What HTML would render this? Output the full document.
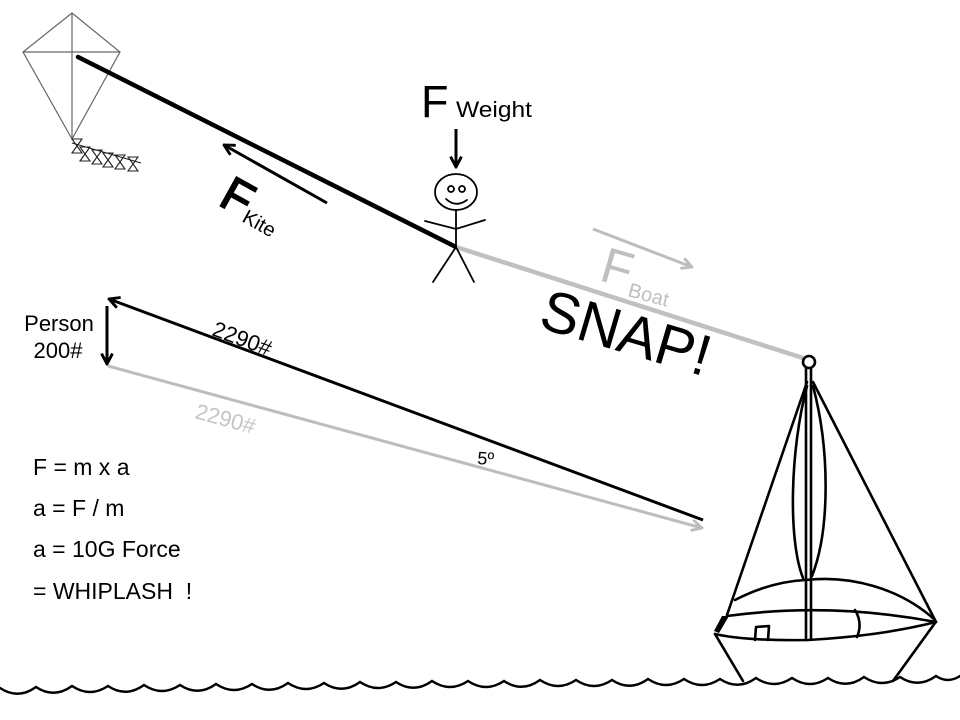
<!DOCTYPE html>
<html><head><meta charset="utf-8"><style>
html,body{margin:0;padding:0;background:#fff;}
svg{display:block;}
text{font-family:"Liberation Sans",Arial,sans-serif;}
</style></head><body>
<svg width="960" height="720" viewBox="0 0 960 720" xmlns="http://www.w3.org/2000/svg">
<defs>
<marker id="ab" viewBox="0 0 10 10" refX="9" refY="5" markerWidth="13" markerHeight="13" markerUnits="userSpaceOnUse" orient="auto">
<path d="M1,0.8 L9,5 L1,9.2" fill="none" stroke="#000" stroke-width="2.2"/>
</marker>
<marker id="ag" viewBox="0 0 10 10" refX="9" refY="5" markerWidth="13" markerHeight="13" markerUnits="userSpaceOnUse" orient="auto">
<path d="M1,0.8 L9,5 L1,9.2" fill="none" stroke="#bdbdbd" stroke-width="2.2"/>
</marker>
</defs>
<rect width="960" height="720" fill="#fff"/>

<!-- Kite -->
<g fill="none" stroke="#666" stroke-width="1.2">
<path d="M72,13 L23,52 L72,139 L120,52 Z"/>
<path d="M72,13 L72,139 M23,52 L120,52"/>
</g>
<g fill="none" stroke="#222" stroke-width="1.1">
<path d="M72,143 L141,163"/>
<path d="M72,139 L82,139 L72,153 L82,153 Z"/>
<path d="M80,147 L90,147 L80,161 L90,161 Z"/>
<path d="M92,150 L102,150 L92,164 L102,164 Z"/>
<path d="M103,153 L113,153 L103,167 L113,167 Z"/>
<path d="M115,155 L125,155 L115,169 L125,169 Z"/>
<path d="M128,157 L138,157 L128,171 L138,171 Z"/>
</g>

<!-- kite string and boat line -->
<line x1="78" y1="57" x2="456" y2="247" stroke="#000" stroke-width="4.5" stroke-linecap="round"/>
<line x1="456" y1="247" x2="803" y2="358" stroke="#c0c0c0" stroke-width="4.5"/>

<!-- F Kite arrow -->
<line x1="327" y1="203" x2="224" y2="145" stroke="#000" stroke-width="3" marker-end="url(#ab)"/>
<text transform="translate(217,204) rotate(29)" font-size="48" fill="#000" stroke="#000" stroke-width="1.6">F</text>
<text transform="translate(241,221) rotate(29)" font-size="20" fill="#000">Kite</text>

<!-- F Weight -->
<text x="421" y="117" font-size="45" fill="#000">F</text>
<text x="456" y="117" font-size="22" fill="#000" textLength="76" lengthAdjust="spacingAndGlyphs">Weight</text>
<line x1="456" y1="129" x2="456" y2="167" stroke="#000" stroke-width="3" marker-end="url(#ab)"/>

<!-- Stick person -->
<g fill="none" stroke="#000" stroke-width="1.8" stroke-linecap="round">
<ellipse cx="456" cy="192" rx="21" ry="18"/>
<circle cx="451" cy="189" r="3"/>
<circle cx="462" cy="189" r="3"/>
<path d="M446,199 Q456,208 467,200"/>
<path d="M456,210 L456,247"/>
<path d="M425,221 L456,229 L485,220"/>
<path d="M456,247 L433,282 M456,247 L474,282"/>
</g>

<!-- F Boat -->
<line x1="593" y1="229" x2="692" y2="267" stroke="#bdbdbd" stroke-width="3" marker-end="url(#ag)"/>
<text transform="translate(598,280) rotate(16)" font-size="50" fill="#bfbfbf">F</text>
<text transform="translate(627,296) rotate(15)" font-size="20" fill="#bfbfbf">Boat</text>

<!-- SNAP! -->
<text transform="translate(537,327) rotate(16.5)" font-size="58" fill="#000">SNAP!</text>

<!-- Lower diagram -->
<line x1="703" y1="520" x2="109" y2="299" stroke="#000" stroke-width="3" marker-end="url(#ab)"/>
<line x1="108" y1="366" x2="702" y2="528" stroke="#bdbdbd" stroke-width="3" marker-end="url(#ag)"/>
<line x1="107" y1="306" x2="107" y2="364" stroke="#000" stroke-width="3" marker-end="url(#ab)"/>
<text x="59" y="331" font-size="22" fill="#000" text-anchor="middle">Person</text>
<text x="58" y="358" font-size="22" fill="#000" text-anchor="middle">200#</text>
<text transform="translate(211,335) rotate(20.4)" font-size="22" fill="#000">2290#</text>
<text transform="translate(194,418) rotate(15.2)" font-size="22" fill="#c4c4c4">2290#</text>
<text transform="translate(477,464) rotate(4)" font-size="18" fill="#000">5º</text>

<!-- Equations -->
<g font-size="23" fill="#000">
<text x="33" y="475">F = m x a</text>
<text x="33" y="516">a = F / m</text>
<text x="33" y="557">a = 10G Force</text>
<text x="33" y="599">= WHIPLASH&#160;&#160;!</text>
</g>

<!-- Boat -->
<g fill="none" stroke="#000" stroke-width="2.6" stroke-linecap="round" stroke-linejoin="round">
<circle cx="809" cy="362" r="6"/>
<path d="M806,368 L806,640 M811,368 L811,639"/>
<path d="M807,386 C790,450 788,540 803,578"/>
<path d="M813,386 C830,450 830,530 812,576"/>
<path d="M807,382 L727,615"/>
<path d="M813,382 L936,622"/>
<path d="M735,600 C760,587 785,581 806,580 C850,575 900,588 935,620"/>
<path d="M727,616 Q830,602 936,622"/>
<path d="M715,634 Q745,641 808,640 Q880,636 936,622"/>
<path d="M715,634 L743,681"/>
<path d="M935,623 L893,681"/>
<path d="M755,640 L756,627 L769,626 L768,640"/>
<path d="M855,610 Q863,623 857,637"/>
</g>
<path d="M722,616 L729,616 L719,633 L714,631 Z" fill="#000"/>

<!-- Waves -->
<path fill="none" stroke="#000" stroke-width="2.4" stroke-linecap="round"
d="M0,688 Q18,700 36,687 Q54,699 72,686 Q90,698 108,686 Q126,698 144,685 Q162,697 180,685 Q198,697 216,684 Q234,696 252,684 Q270,696 288,683 Q306,695 324,683 Q342,695 360,682 Q378,694 396,682 Q414,694 432,681 Q450,693 468,681 Q486,693 504,681 Q522,693 540,680 Q558,692 576,680 Q594,692 612,680 Q630,692 648,679 Q666,691 684,679 Q702,691 720,679 Q738,691 756,678 Q774,690 792,678 Q810,690 828,678 Q846,690 864,677 Q882,689 900,677 Q918,689 936,676 Q948,684 960,676"/>
</svg>
</body></html>
